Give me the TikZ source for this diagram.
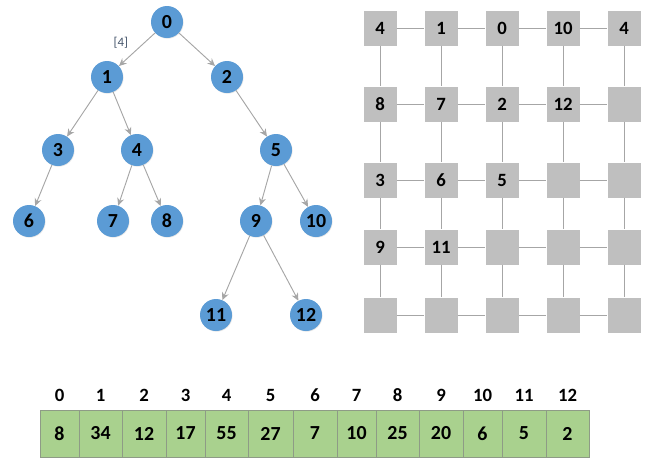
\documentclass[tikz,border=0pt]{standalone}
\usepackage{fontspec}
\setmainfont{Carlito}
\usetikzlibrary{arrows.meta,positioning,shadows}
\definecolor{nodeblue}{HTML}{5B9BD5}
\definecolor{edgegray}{HTML}{A6A6A6}
\definecolor{boxgray}{HTML}{BFBFBF}
\definecolor{cellgreen}{HTML}{A9D18E}
\definecolor{cellline}{HTML}{8E9B86}
\definecolor{lblslate}{HTML}{44546A}

\tikzset{
  treenode/.style={circle,fill=nodeblue,minimum size=9.6mm,inner sep=0pt,
    font=\bfseries\fontsize{17}{19}\selectfont,
    drop shadow={opacity=0.2,shadow xshift=0.5pt,shadow yshift=-0.6pt}},
  treeedge/.style={draw=edgegray,line width=0.8pt,-{Stealth[length=6.5pt,width=6pt]}},
  gridbox/.style={rectangle,fill=boxgray,minimum width=9.9mm,minimum height=10.5mm,inner sep=0pt,
    drop shadow={opacity=0.15,shadow xshift=0.5pt,shadow yshift=-0.6pt}},
  gridline/.style={draw=edgegray,line width=0.8pt},
  cell/.style={rectangle,draw=cellline,fill=cellgreen,line width=0.5pt,minimum height=14.1mm,inner sep=0pt,
    font=\bfseries\fontsize{17}{19}\selectfont},
  idx/.style={inner sep=0pt,font=\bfseries\fontsize{16}{18}\selectfont}
}

\begin{document}
\begin{tikzpicture}[x=0.3mm,y=-0.3mm]
  \useasboundingbox (0,0) rectangle (645,458);

  % binary tree
  \node[treenode] (n0) at (167,22) {0};
  \node[treenode] (n1) at (107,77) {1};
  \node[treenode] (n2) at (227,77) {2};
  \node[treenode] (n3) at (58,150) {3};
  \node[treenode] (n4) at (137,150) {4};
  \node[treenode] (n5) at (276,150) {5};
  \node[treenode] (n6) at (29,221) {6};
  \node[treenode] (n7) at (113,221) {7};
  \node[treenode] (n8) at (167,221) {8};
  \node[treenode] (n9) at (256,221) {9};
  \node[treenode] (n10) at (316,221) {10};
  \node[treenode] (n11) at (216,315) {11};
  \node[treenode] (n12) at (306,315) {12};

  \draw[treeedge] (n0) -- node[left=10pt,pos=0.3,text=lblslate,font=\fontsize{11}{13}\selectfont]{[4]} (n1);
  \draw[treeedge] (n0) -- (n2);
  \draw[treeedge] (n1) -- (n3);
  \draw[treeedge] (n1) -- (n4);
  \draw[treeedge] (n2) -- (n5);
  \draw[treeedge] (n3) -- (n6);
  \draw[treeedge] (n4) -- (n7);
  \draw[treeedge] (n4) -- (n8);
  \draw[treeedge] (n5) -- (n9);
  \draw[treeedge] (n5) -- (n10);
  \draw[treeedge] (n9) -- (n11);
  \draw[treeedge] (n9) -- (n12);

  % 5x5 processor grid
  \foreach \r/\y in {1/28,2/104,3/180,4/247,5/315}
    \foreach \c in {1,...,5}
      \node[gridbox] (g\r\c) at ({319+61*\c},\y) {};
  \foreach \r in {1,...,5}
    \foreach \c/\nx in {1/2,2/3,3/4,4/5} {
      \draw[gridline] (g\r\c) -- (g\r\nx);
      \draw[gridline] (g\c\r) -- (g\nx\r);
    }
  \foreach \r/\c/\t in {1/1/4,1/2/1,1/3/0,1/4/10,1/5/4,
                        2/1/8,2/2/7,2/3/2,2/4/12,
                        3/1/3,3/2/6,3/3/5,
                        4/1/9,4/2/11}
    \node[idx] at (g\r\c) {\t};

  % array with indices
  \foreach \i/\a/\b/\v in {0/40/79/8,1/79/122/34,2/122/166/12,3/166/205/17,
                           4/205/248/55,5/248/293/27,6/293/337/7,7/337/376/10,
                           8/376/419/25,9/419/463/20,10/463/502/6,11/502/546/5,12/546/589/2} {
    \node[cell,minimum width={(\b-\a)*0.3mm}] (c\i) at ({(\a+\b)/2},433.5) {\v};
    \node[idx] (i\i) at ({(\a+\b)/2},395) {\i};
  }
\end{tikzpicture}
\end{document}
